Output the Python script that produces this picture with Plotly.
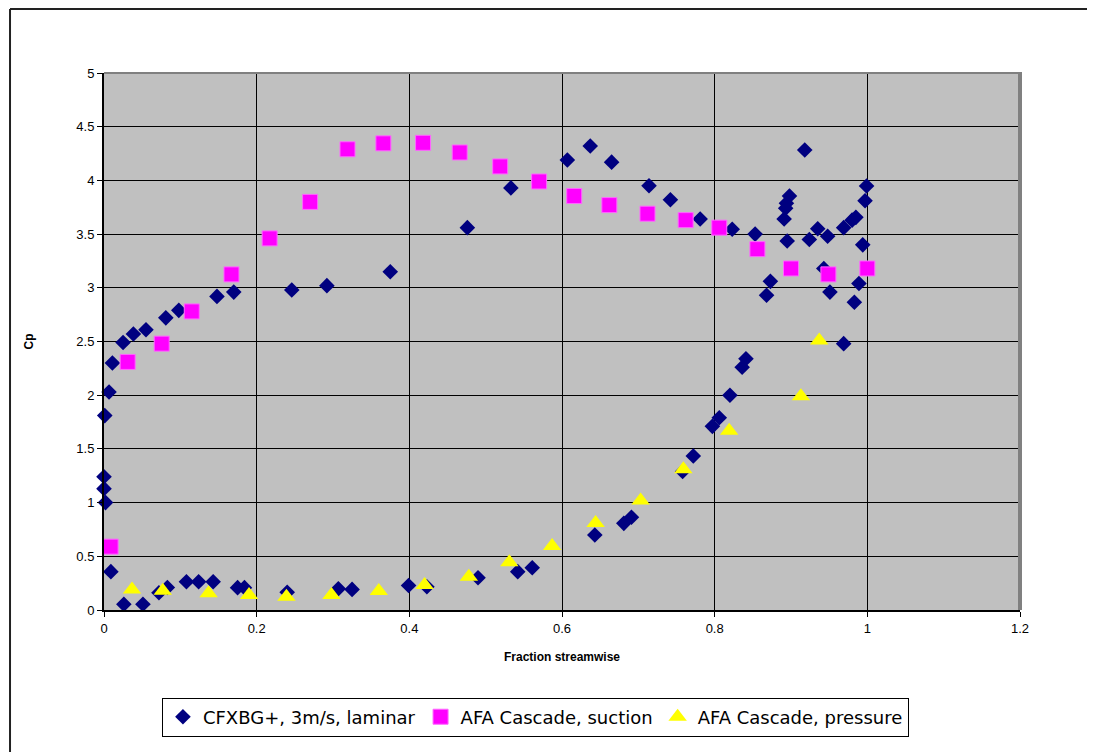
import plotly.graph_objects as go

# CFXBG+, 3m/s, laminar
cfx_x = [0.001, 0.0066, 0.011, 0.025, 0.0385, 0.055, 0.081, 0.098, 0.148, 0.170, 0.246, 0.292, 0.375,
         0.476, 0.533, 0.607, 0.637, 0.665, 0.714, 0.742, 0.781, 0.823, 0.853, 0.895, 0.891, 0.893,
         0.894, 0.898, 0.918, 0.924, 0.935, 0.948, 0.969, 0.980, 0.985, 0.997, 0.999, 0.994, 0.943,
         0.873, 0.868, 0.951, 0.989, 0.983, 0.969,
         0.0, 0.0, 0.002, 0.009, 0.026, 0.051, 0.072, 0.083, 0.108, 0.124, 0.143, 0.175, 0.184,
         0.240, 0.307, 0.325, 0.399, 0.423, 0.490, 0.542, 0.561, 0.643, 0.681, 0.691, 0.758, 0.772,
         0.797, 0.806, 0.820, 0.836, 0.841]
cfx_y = [1.81, 2.03, 2.30, 2.49, 2.57, 2.61, 2.72, 2.79, 2.92, 2.96, 2.98, 3.02, 3.15,
         3.56, 3.93, 4.19, 4.32, 4.17, 3.95, 3.82, 3.64, 3.545, 3.50, 3.436, 3.64, 3.74,
         3.787, 3.855, 4.283, 3.45, 3.55, 3.48, 3.56, 3.63, 3.656, 3.81, 3.948, 3.40, 3.18,
         3.06, 2.93, 2.96, 3.04, 2.865, 2.48,
         1.24, 1.13, 1.00, 0.357, 0.053, 0.053, 0.16, 0.21, 0.263, 0.263, 0.263, 0.208, 0.208,
         0.165, 0.198, 0.192, 0.228, 0.217, 0.30, 0.357, 0.394, 0.698, 0.807, 0.863, 1.29, 1.434,
         1.71, 1.79, 2.00, 2.26, 2.34]

# AFA Cascade, suction
suc_x = [0.0087, 0.031, 0.0756, 0.115, 0.167, 0.217, 0.270, 0.319, 0.366, 0.418, 0.466, 0.519,
         0.570, 0.616, 0.662, 0.712, 0.762, 0.806, 0.856, 0.900, 0.949, 1.000]
suc_y = [0.59, 2.31, 2.48, 2.78, 3.125, 3.46, 3.80, 4.29, 4.345, 4.35, 4.26, 4.13,
         3.99, 3.855, 3.77, 3.69, 3.63, 3.56, 3.36, 3.18, 3.125, 3.18]

# AFA Cascade, pressure
pre_x = [0.0367, 0.077, 0.137, 0.190, 0.239, 0.298, 0.360, 0.420, 0.478, 0.531, 0.587, 0.644,
         0.703, 0.759, 0.819, 0.913, 0.937]
pre_y = [0.19, 0.18, 0.155, 0.14, 0.124, 0.14, 0.177, 0.233, 0.31, 0.444, 0.596, 0.81,
         1.02, 1.31, 1.67, 1.99, 2.51]

x_ticks = [0, 0.2, 0.4, 0.6, 0.8, 1, 1.2]
x_tick_labels = ["0", "0.2", "0.4", "0.6", "0.8", "1", "1.2"]
y_ticks = [0, 0.5, 1, 1.5, 2, 2.5, 3, 3.5, 4, 4.5, 5]
y_tick_labels = ["0", "0.5", "1", "1.5", "2", "2.5", "3", "3.5", "4", "4.5", "5"]

FONT = "Liberation Sans, Arial, sans-serif"

fig = go.Figure()
fig.add_trace(go.Scatter(x=cfx_x, y=cfx_y, mode="markers", name="CFXBG+, 3m/s, laminar",
                         marker=dict(symbol="diamond", size=12, color="#000080", line=dict(width=0)),
                         cliponaxis=False))
fig.add_trace(go.Scatter(x=suc_x, y=suc_y, mode="markers", name="AFA Cascade, suction",
                         marker=dict(symbol="square", size=15, color="#FF00FF",
                                     line=dict(width=1, color="#FF66FF")),
                         cliponaxis=False))
fig.add_trace(go.Scatter(x=pre_x, y=pre_y, mode="markers", name="AFA Cascade, pressure",
                         marker=dict(symbol="triangle-up", size=16, color="#FFFF00", line=dict(width=0)),
                         cliponaxis=False))

fig.update_layout(
    width=1095, height=752,
    margin=dict(l=96, r=83, t=65, b=150),
    paper_bgcolor="white",
    plot_bgcolor="#C0C0C0",
    font=dict(family=FONT, color="black", size=13),
    showlegend=True,
    legend=dict(orientation="h", x=0.471, xanchor="center", y=-0.163, yanchor="top",
                bgcolor="white", bordercolor="black", borderwidth=1,
                font=dict(family="DejaVu Sans, sans-serif", size=18),
                itemwidth=30, tracegroupgap=0),
    xaxis=dict(range=[0, 1.2], tickvals=x_ticks, ticktext=x_tick_labels,
               showgrid=True, gridcolor="black", gridwidth=1,
               showline=True, linecolor="black", linewidth=2,
               ticks="outside", ticklen=5, tickcolor="black",
               zeroline=False, tickfont=dict(size=13),
               title=dict(text="<b>Fraction streamwise</b>", font=dict(size=12), standoff=18)),
    yaxis=dict(range=[0, 5], tickvals=y_ticks, ticktext=y_tick_labels,
               showgrid=True, gridcolor="black", gridwidth=1,
               showline=True, linecolor="black", linewidth=2,
               ticks="outside", ticklen=5, tickcolor="black",
               zeroline=False, tickfont=dict(size=13),
               title=dict(text="<b>Cp</b>", font=dict(size=12), standoff=40)),
    shapes=[
        dict(type="line", xref="paper", yref="paper", x0=0, x1=1.002, y0=1, y1=1,
             line=dict(color="#808080", width=2), layer="above"),
        dict(type="line", xref="paper", yref="paper", x0=1.0, x1=1.0, y0=0, y1=1.002,
             line=dict(color="#808080", width=4), layer="above"),
        dict(type="line", xref="paper", yref="paper", x0=-0.1026, x1=1.2, y0=1.1192, y1=1.1192,
             line=dict(color="#222222", width=2), layer="above"),
        dict(type="line", xref="paper", yref="paper", x0=-0.1026, x1=-0.1026, y0=-0.5, y1=1.1192,
             line=dict(color="#222222", width=2), layer="above"),
    ],
)

fig.write_html("out.html")
